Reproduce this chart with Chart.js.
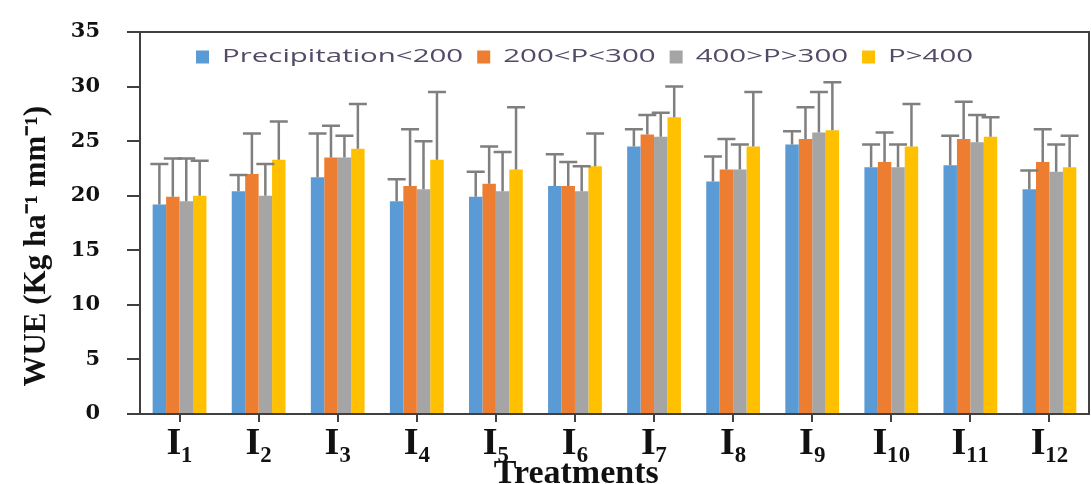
<!DOCTYPE html>
<html>
<head>
<meta charset="utf-8">
<script src="https://cdn.jsdelivr.net/npm/chart.js@4.4.1/dist/chart.umd.min.js"></script>
<style>
  body { margin: 0; background: #fff; }
</style>
</head>
<body>
<canvas id="wue" width="1091" height="484"></canvas>
<script>
// categories and tick labels
const treatments = ["I₁", "I₂", "I₃", "I₄", "I₅", "I₆", "I₇", "I₈", "I₉", "I₁₀", "I₁₁", "I₁₂"];
const yTicks = [0, 5, 10, 15, 20, 25, 30, 35];

// WUE means
const precipBelow200 = [19.2, 20.4, 21.7, 19.5, 19.9, 20.9, 24.5, 21.3, 24.7, 22.6, 22.8, 20.6];
const p200to300 = [19.9, 22.0, 23.5, 20.9, 21.1, 20.9, 25.6, 22.4, 25.2, 23.1, 25.2, 23.1];
const p300to400 = [19.5, 20.0, 23.5, 20.6, 20.4, 20.4, 25.4, 22.4, 25.8, 22.6, 24.9, 22.2];
const pAbove400 = [20.0, 23.3, 24.3, 23.3, 22.4, 22.7, 27.2, 24.5, 26.0, 24.5, 25.4, 22.6];

// upper error bar lengths
const precipBelow200Err = [3.7, 1.5, 4.0, 2.0, 2.3, 2.9, 1.6, 2.3, 1.2, 2.1, 2.7, 1.7];
const p200to300Err = [3.5, 3.7, 2.9, 5.2, 3.4, 2.2, 1.8, 2.8, 2.9, 2.7, 3.4, 3.0];
const p300to400Err = [3.9, 2.9, 2.0, 4.4, 3.6, 2.3, 2.2, 2.3, 3.7, 2.1, 2.5, 2.5];
const pAbove400Err = [3.2, 3.5, 4.1, 6.2, 5.7, 3.0, 2.8, 5.0, 4.4, 3.9, 1.8, 2.9];

const axisColor = "#404040";
const textColor = "#111111";
const serif = "'Liberation Serif', 'Times New Roman', serif";

// whiskers + caps on top of every bar
const errorBars = {
  id: "errorBars",
  afterDatasetsDraw(chart) {
    const ctx = chart.ctx;
    const yScale = chart.scales.y;
    ctx.save();
    ctx.strokeStyle = "#7f7f7f";
    ctx.lineWidth = 2.5;
    chart.data.datasets.forEach((ds, i) => {
      chart.getDatasetMeta(i).data.forEach((bar, j) => {
        const top = yScale.getPixelForValue(ds.data[j] + ds.errors[j]);
        ctx.beginPath();
        ctx.moveTo(bar.x, bar.y);
        ctx.lineTo(bar.x, top);
        ctx.moveTo(bar.x - 9, top);
        ctx.lineTo(bar.x + 9, top);
        ctx.stroke();
      });
    });
    ctx.restore();
  },
};

// top + right border of the plot area, and the legend sitting inside it
// (legend text is a wide stretched sans in the original, so scale it sideways)
const frameAndLegend = {
  id: "frameAndLegend",
  afterDraw(chart) {
    const ctx = chart.ctx;
    const { left, top, right, bottom } = chart.chartArea;
    ctx.save();
    ctx.strokeStyle = axisColor;
    ctx.lineWidth = 2;
    ctx.beginPath();
    ctx.moveTo(left, top);
    ctx.lineTo(right, top);
    ctx.lineTo(right, bottom);
    ctx.stroke();

    const stretch = 1.55;
    let x = left + 56;
    const y = top + 25;
    ctx.font = "19px 'Open Sans', sans-serif";
    ctx.textBaseline = "middle";
    chart.data.datasets.forEach((ds) => {
      ctx.fillStyle = ds.backgroundColor;
      ctx.fillRect(x, y - 6.5, 13, 13);
      ctx.fillStyle = "#524a66";
      ctx.save();
      ctx.translate(x + 26, y);
      ctx.scale(stretch, 1);
      ctx.fillText(ds.label, 0, 0);
      ctx.restore();
      x += 26 + ctx.measureText(ds.label).width * stretch + 14;
    });
    ctx.restore();
  },
};

new Chart(document.getElementById("wue"), {
  type: "bar",
  data: {
    labels: treatments,
    datasets: [
      { label: "Precipitation<200", data: precipBelow200, errors: precipBelow200Err, backgroundColor: "#5b9bd5" },
      { label: "200<P<300", data: p200to300, errors: p200to300Err, backgroundColor: "#ed7d31" },
      { label: "400>P>300", data: p300to400, errors: p300to400Err, backgroundColor: "#a5a5a5" },
      { label: "P>400", data: pAbove400, errors: pAbove400Err, backgroundColor: "#ffc000" },
    ],
  },
  options: {
    responsive: false,
    animation: false,
    devicePixelRatio: 1,
    layout: { padding: { top: 32, right: 2, bottom: 0, left: 0 } },
    datasets: {
      bar: { categoryPercentage: 0.68, barPercentage: 1.0 },
    },
    plugins: {
      legend: { display: false },
      tooltip: { enabled: false },
    },
    scales: {
      x: {
        afterFit: (s) => { s.height = 70; },
        border: { color: axisColor, width: 2 },
        grid: { offset: false, drawOnChartArea: false, tickLength: 8, color: axisColor, lineWidth: 2 },
        ticks: {
          padding: 3,
          autoSkip: false,
          maxRotation: 0,
          color: textColor,
          font: { family: serif, weight: "bold", size: 38, lineHeight: 1 },
        },
        title: {
          display: true,
          text: "Treatments         ",
          color: textColor,
          padding: { top: 0, bottom: 0 },
          font: { family: serif, weight: "bold", size: 34, lineHeight: 0.6 },
        },
      },
      y: {
        min: 0,
        max: 35,
        afterBuildTicks: (s) => { s.ticks = yTicks.map((v) => ({ value: v })); },
        afterFit: (s) => { s.width = 140; },
        border: { color: axisColor, width: 2 },
        grid: { drawOnChartArea: false, tickLength: 13, color: axisColor, lineWidth: 2 },
        ticks: {
          padding: 27,
          color: textColor,
          font: { family: "'DejaVu Serif', serif", weight: "bold", size: 21, lineHeight: 0.2 },
        },
        title: {
          display: true,
          text: "WUE (Kg ha⁻¹ mm⁻¹)      ",
          color: textColor,
          padding: { top: 18, bottom: 0 },
          font: { family: serif, weight: "bold", size: 31 },
        },
      },
    },
  },
  plugins: [errorBars, frameAndLegend],
});
</script>
</body>
</html>
